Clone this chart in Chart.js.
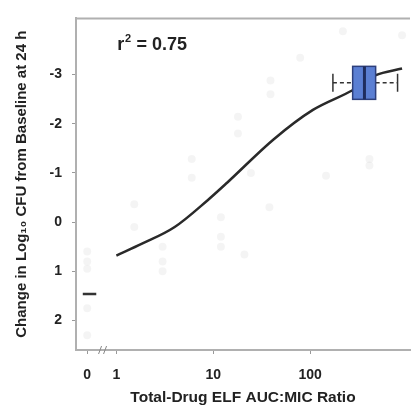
<!DOCTYPE html>
<html>
<head>
<meta charset="utf-8">
<script src="https://cdn.jsdelivr.net/npm/chart.js@4"></script>
<style>
  html, body { margin: 0; padding: 0; background: #fff; }
  #wrap { width: 414px; height: 408px; position: relative; }
</style>
</head>
<body>
<div id="wrap"><canvas id="c"></canvas></div>
<script>
// ---- data ----
const xTickValues = [0.5, 1, 10, 100];
const xTickLabels = ["0", "1", "10", "100"];
const yTickValues = [-3, -2, -1, 0, 1, 2];

// fitted curve (AUC:MIC ratio, change in log10 CFU)
const curveX = [1.0, 1.84, 4.0, 8.7, 13.9, 41.9, 107, 274, 471, 890];
const curveY = [0.68, 0.44, 0.10, -0.44, -0.80, -1.68, -2.28, -2.68, -2.98, -3.12];

// faint individual observations
const obsX = [0.5, 0.5, 0.5, 0.5, 0.5, 1.53, 1.53, 3.0, 3.0, 3.0, 6.0, 6.0, 12, 12, 12, 18, 18, 21, 24.5, 38, 39, 39, 79, 146, 218, 410, 410, 890];
const obsY = [0.6, 0.8, 0.95, 1.75, 2.3, -0.36, 0.1, 0.5, 0.8, 1.0, -1.28, -0.9, -0.1, 0.3, 0.5, -2.14, -1.8, 0.66, -1.0, -0.3, -2.88, -2.6, -3.34, -0.94, -3.88, -1.28, -1.15, -3.8];

// median mark of the "0" group
const zeroMedX = [0.45, 0.62];
const zeroMedY = [1.46, 1.46];

// box plot at high exposure (horizontal)
const boxY = [-2.83];
const boxMin = [172];
const boxQ1 = [275];
const boxMedian = [364];
const boxQ3 = [475];
const boxMax = [800];

const rText = "r";
const rSup = "2";
const rRest = " = 0.75";

const toPts = (xs, ys) => xs.map((x, i) => ({ x: x, y: ys[i] }));

const FONT = "'Liberation Sans', Arial, sans-serif";

const decorPlugin = {
  id: 'decor',
  afterDatasetsDraw(chart) {
    const ctx = chart.ctx;
    const xs = chart.scales.x, ys = chart.scales.y;
    const a = chart.chartArea;
    ctx.save();
    // top border
    ctx.strokeStyle = '#b0b0b0';
    ctx.lineWidth = 2;
    ctx.beginPath();
    ctx.moveTo(a.left, a.top);
    ctx.lineTo(a.right, a.top);
    ctx.stroke();

    // box plots
    const halfH = 16.5, capH = 9;
    for (let i = 0; i < boxY.length; i++) {
      const yc = ys.getPixelForValue(boxY[i]);
      const pMin = xs.getPixelForValue(boxMin[i]);
      const pQ1 = xs.getPixelForValue(boxQ1[i]);
      const pMed = xs.getPixelForValue(boxMedian[i]);
      const pQ3 = xs.getPixelForValue(boxQ3[i]);
      const pMax = xs.getPixelForValue(boxMax[i]);
      // whiskers
      ctx.strokeStyle = '#333';
      ctx.lineWidth = 1.5;
      ctx.setLineDash([4, 3]);
      ctx.beginPath();
      ctx.moveTo(pMin, yc); ctx.lineTo(pQ1, yc);
      ctx.moveTo(pQ3, yc); ctx.lineTo(pMax, yc);
      ctx.stroke();
      ctx.setLineDash([]);
      ctx.beginPath();
      ctx.moveTo(pMin, yc - capH); ctx.lineTo(pMin, yc + capH);
      ctx.moveTo(pMax, yc - capH); ctx.lineTo(pMax, yc + capH);
      ctx.stroke();
      // box
      ctx.fillStyle = '#5b7fd3';
      ctx.fillRect(pQ1, yc - halfH, pQ3 - pQ1, 2 * halfH);
      ctx.strokeStyle = '#2d3f7c';
      ctx.lineWidth = 1.5;
      ctx.strokeRect(pQ1, yc - halfH, pQ3 - pQ1, 2 * halfH);
      // median
      ctx.strokeStyle = '#1f2d5e';
      ctx.lineWidth = 3;
      ctx.beginPath();
      ctx.moveTo(pMed, yc - halfH); ctx.lineTo(pMed, yc + halfH);
      ctx.stroke();
    }

    // axis break marks between 0 and 1
    const bx = xs.getPixelForValue(0.72);
    ctx.strokeStyle = '#888';
    ctx.lineWidth = 1;
    ctx.beginPath();
    ctx.moveTo(bx - 4, a.bottom + 4); ctx.lineTo(bx - 1, a.bottom - 4);
    ctx.moveTo(bx + 1, a.bottom + 4); ctx.lineTo(bx + 4, a.bottom - 4);
    ctx.stroke();

    // r^2 annotation
    const tx = xs.getPixelForValue(1.0) + 1;
    const ty = ys.getPixelForValue(-3.6);
    ctx.fillStyle = '#222';
    ctx.textBaseline = 'middle';
    ctx.textAlign = 'left';
    ctx.font = 'bold 18px ' + FONT;
    ctx.fillText(rText, tx, ty);
    const wr = ctx.measureText(rText).width;
    ctx.font = 'bold 11px ' + FONT;
    ctx.fillText(rSup, tx + wr + 0.5, ty - 6);
    const ws = ctx.measureText(rSup).width;
    ctx.font = 'bold 18px ' + FONT;
    ctx.fillText(rRest, tx + wr + ws + 1, ty);
    ctx.restore();
  }
};

new Chart(document.getElementById('c'), {
  type: 'scatter',
  data: {
    datasets: [
      {
        type: 'line',
        data: toPts(curveX, curveY),
        borderColor: '#2a2a2a',
        borderWidth: 2.5,
        pointRadius: 0,
        cubicInterpolationMode: 'monotone',
        fill: false,
        order: 1
      },
      {
        type: 'line',
        data: toPts(zeroMedX, zeroMedY),
        borderColor: '#333',
        borderWidth: 2.5,
        pointRadius: 0,
        fill: false,
        order: 2
      },
      {
        data: toPts(obsX, obsY),
        backgroundColor: 'rgba(0,0,0,0.045)',
        borderWidth: 0,
        pointRadius: 4,
        order: 3
      }
    ]
  },
  options: {
    responsive: true,
    maintainAspectRatio: false,
    animation: false,
    layout: { padding: { top: 13, right: 0, left: 0, bottom: 0 } },
    plugins: { legend: { display: false }, tooltip: { enabled: false } },
    scales: {
      x: {
        type: 'logarithmic',
        min: 0.383,
        max: 1075,
        afterBuildTicks: (s) => { s.ticks = xTickValues.map(v => ({ value: v })); },
        afterFit: (s) => { s.height = 58; },
        ticks: {
          autoSkip: false,
          maxRotation: 0,
          padding: 13,
          color: '#222',
          font: { family: FONT, size: 14, weight: 'bold' },
          callback: (v) => { const i = xTickValues.indexOf(v); return i >= 0 ? xTickLabels[i] : ''; }
        },
        grid: { drawOnChartArea: false, drawTicks: true, tickLength: 4, color: '#999' },
        border: { display: true, color: '#b0b0b0', width: 2 },
        title: {
          display: true,
          text: 'Total-Drug ELF AUC:MIC Ratio',
          color: '#222',
          font: { family: FONT, size: 15.5, weight: 'bold' },
          padding: { top: 0, bottom: 1 }
        }
      },
      y: {
        type: 'linear',
        reverse: true,
        min: -4.14,
        max: 2.6,
        afterBuildTicks: (s) => { s.ticks = yTickValues.map(v => ({ value: v })); },
        afterFit: (s) => { s.width = 76; },
        ticks: {
          padding: 10,
          color: '#222',
          font: { family: FONT, size: 14, weight: 'bold' },
          callback: (v) => String(v)
        },
        grid: { drawOnChartArea: false, drawTicks: true, tickLength: 4, color: '#999' },
        border: { display: true, color: '#b0b0b0', width: 2 },
        title: {
          display: true,
          text: 'Change in Log\u2081\u2080 CFU from Baseline at 24 h',
          color: '#222',
          font: { family: FONT, size: 15, weight: 'bold' },
          padding: { top: 13, bottom: 0 }
        }
      }
    }
  },
  plugins: [decorPlugin]
});
</script>
</body>
</html>
